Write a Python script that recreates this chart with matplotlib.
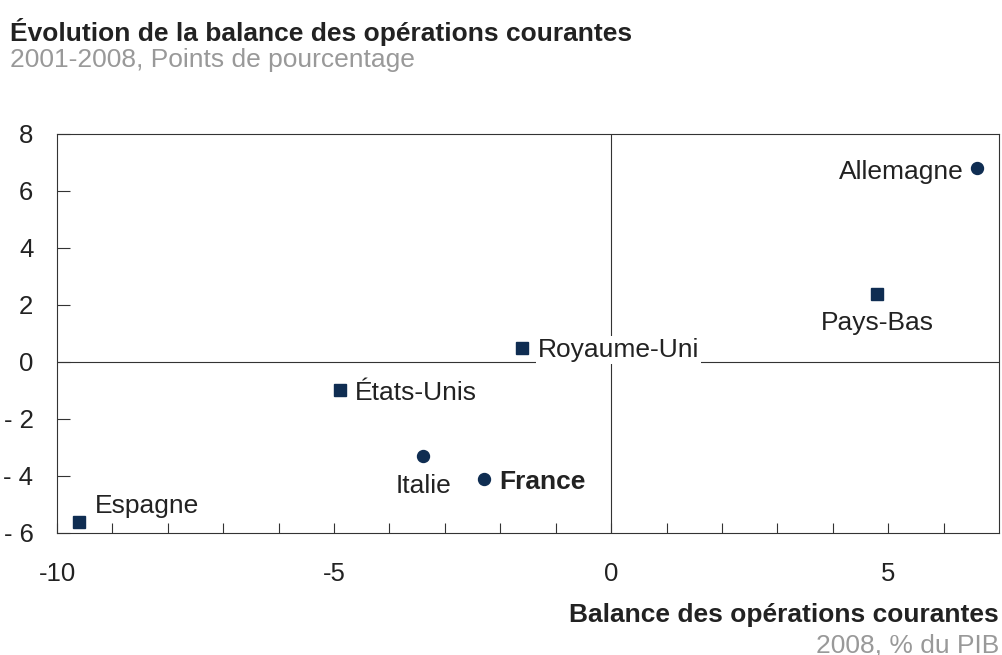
import matplotlib
matplotlib.use("Agg")
import matplotlib.pyplot as plt
from matplotlib.ticker import FixedLocator, FuncFormatter

plt.rcParams['font.family'] = ['Liberation Sans', 'DejaVu Sans']
plt.rcParams['axes.unicode_minus'] = False

# --- Données (lecture du graphique) ---
pays = ["Allemagne", "Pays-Bas", "Royaume-Uni", "États-Unis", "Italie", "France", "Espagne"]
balance_2008 = [6.6, 4.8, -1.6, -4.9, -3.4, -2.3, -9.6]       # % du PIB
evolution = [6.8, 2.4, 0.5, -1.0, -3.3, -4.1, -5.6]            # points de pourcentage
marqueurs = ["o", "s", "s", "s", "o", "o", "s"]

# position des étiquettes (décalage en points, alignement)
decalages = [(-9.5, -2.5), (0.5, -21), (11, -1.5), (11, -1.5), (0.5, -21.5), (11.5, -2.5), (11, 11.5)]
alignements = ["right", "center", "left", "left", "center", "left", "left"]

bleu = "#0f2d52"
texte = "#222222"
gris = "#999999"

fig = plt.figure(figsize=(10.02, 6.55), dpi=100)
ax = fig.add_axes([0.0569, 0.1863, 0.9401, 0.6092])

ax.axhline(0, color="#333333", lw=0.8, zorder=1)
ax.axvline(0, color="#333333", lw=0.8, zorder=1)

for i, p in enumerate(pays):
    ax.plot(balance_2008[i], evolution[i], marker=marqueurs[i], ms=8.6,
            color=bleu, ls="none", zorder=3)
    kw = {}
    if p == "Royaume-Uni":
        kw["bbox"] = dict(facecolor="white", edgecolor="none", pad=1.5)
    ax.annotate(p, (balance_2008[i], evolution[i]), xytext=decalages[i],
                textcoords="offset points", ha=alignements[i], va="center",
                fontsize=19, color=texte,
                fontweight="bold" if p == "France" else "normal",
                zorder=4, **kw)

ax.set_xlim(-10, 7)
ax.set_ylim(-6, 8)

ax.xaxis.set_major_locator(FixedLocator(range(-10, 7)))
ax.xaxis.set_major_formatter(FuncFormatter(lambda v, _: f"{int(v)}" if int(v) % 5 == 0 else ""))
ax.yaxis.set_major_locator(FixedLocator(range(-6, 9, 2)))
ax.yaxis.set_major_formatter(FuncFormatter(lambda v, _: f"- {abs(int(v))}" if v < 0 else f"{int(v)}"))

ax.tick_params(axis="x", direction="in", length=7, width=0.8, color="#333333",
               labelsize=18.5, labelcolor=texte, pad=21)
ax.tick_params(axis="y", direction="in", length=9, width=0.8, color="#333333",
               labelsize=18.5, labelcolor=texte, pad=17)
for s in ax.spines.values():
    s.set_color("#333333")
    s.set_linewidth(0.8)

fig.text(0.01, 1 - 32 / 655, "Évolution de la balance des opérations courantes",
         fontsize=19, fontweight="bold", color=texte, va="center", ha="left")
fig.text(0.01, 1 - 60 / 655, "2001-2008, Points de pourcentage",
         fontsize=19, color=gris, va="center", ha="left")
fig.text(999 / 1002, 1 - 615 / 655, "Balance des opérations courantes",
         fontsize=19, fontweight="bold", color=texte, va="center", ha="right")
fig.text(999 / 1002, 1 - 645 / 655, "2008, % du PIB",
         fontsize=19, color=gris, va="center", ha="right")

fig.savefig("out.png", dpi=100)
